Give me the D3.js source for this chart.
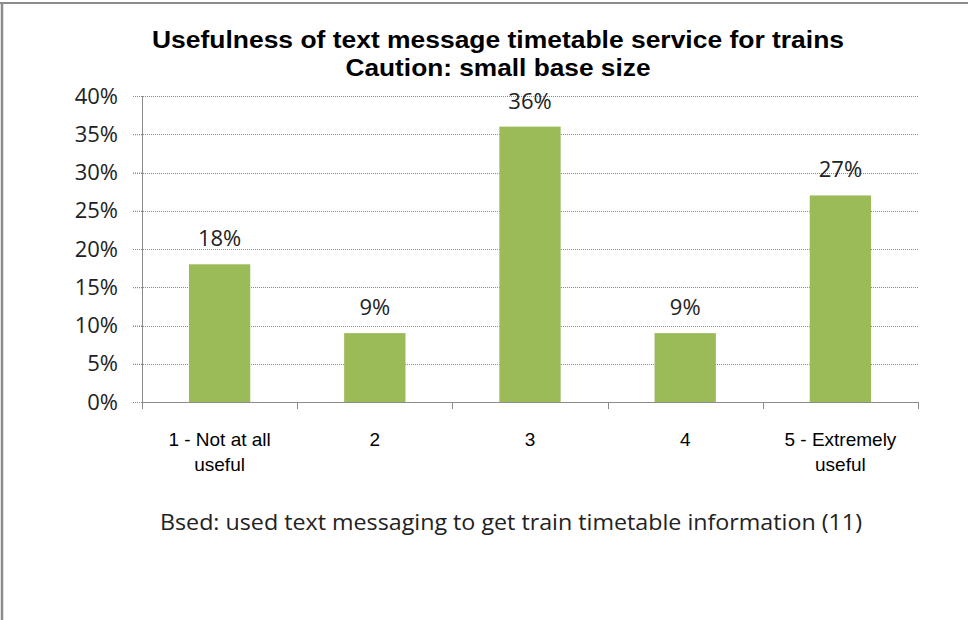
<!DOCTYPE html>
<html>
<head>
<meta charset="utf-8">
<script src="https://cdn.jsdelivr.net/npm/d3@7"></script>
<style>
  html, body { margin: 0; padding: 0; background: #fff; }
  svg { display: block; }
</style>
</head>
<body>
<svg id="chart" width="968" height="620"></svg>
<script>
// Chart data
const categories = ["1 - Not at all|useful", "2", "3", "4", "5 - Extremely|useful"];
const values = [18, 9, 36, 9, 27];
const yTicks = [0, 5, 10, 15, 20, 25, 30, 35, 40];
const titleLines = ["Usefulness of text message timetable service for trains", "Caution: small base size"];
const footnote = "Bsed: used text messaging to get train timetable information (11)";

const svg = d3.select("#chart");
const W = 968, H = 620;
const plot = { left: 142, right: 918, top: 96, bottom: 402 };
const barColor = "#9bbb59";
const bodyFont = "'Open Sans', 'Noto Sans', sans-serif";

// Frame edges (top and left)
svg.append("rect").attr("x", 0).attr("y", 0).attr("width", W).attr("height", H).attr("fill", "#fff");
svg.append("line").attr("x1", 0).attr("x2", W).attr("y1", 3).attr("y2", 3)
  .attr("stroke", "#8c8c8c").attr("stroke-width", 2);
svg.append("line").attr("x1", 2).attr("x2", 2).attr("y1", 2).attr("y2", H)
  .attr("stroke", "#8c8c8c").attr("stroke-width", 2.5);

// Scales
const x = d3.scaleBand().domain(categories).range([plot.left, plot.right]).padding(0);
const y = d3.scaleLinear().domain([0, 40]).range([plot.bottom, plot.top]);
const barW = x.bandwidth() * 0.395;

// Title
const title = svg.append("g");
titleLines.forEach((t, i) => {
  title.append("text")
    .attr("x", 498).attr("y", 48 + i * 28)
    .attr("text-anchor", "middle")
    .attr("font-family", "'Liberation Sans', Arial, sans-serif")
    .attr("font-weight", "bold")
    .attr("font-size", 23)
    .attr("fill", "#000")
    .attr("textLength", i === 0 ? 692 : 305)
    .attr("lengthAdjust", "spacingAndGlyphs")
    .text(t);
});

// Dotted gridlines
svg.append("g").selectAll("line").data(yTicks.filter(d => d > 0)).join("line")
  .attr("x1", 133).attr("x2", plot.right)
  .attr("y1", d => Math.round(y(d)) + 0.5).attr("y2", d => Math.round(y(d)) + 0.5)
  .attr("stroke", "#8a8a8a").attr("stroke-width", 1).attr("stroke-dasharray", "1,1");

// Y axis labels
const yAxis = d3.axisLeft(y).tickValues(yTicks).tickFormat(d => d + "%").tickSize(9).tickPadding(15);
const gy = svg.append("g").attr("transform", `translate(${plot.left},0)`).call(yAxis);
gy.select(".domain").attr("stroke", "#8c8c8c").attr("d", `M0.5,${plot.top}V${plot.bottom}`);
gy.selectAll(".tick line").attr("stroke", "#8a8a8a").attr("stroke-dasharray", "1,1");
gy.selectAll(".tick text")
  .attr("font-family", bodyFont).attr("font-size", 22).attr("fill", "#222");

// Bars
svg.append("g").selectAll("rect").data(values).join("rect")
  .attr("x", (d, i) => x(categories[i]) + (x.bandwidth() - barW) / 2)
  .attr("y", d => y(d))
  .attr("width", barW)
  .attr("height", d => y(0) - y(d))
  .attr("fill", barColor);

// Value labels
svg.append("g").selectAll("text").data(values).join("text")
  .attr("x", (d, i) => x(categories[i]) + x.bandwidth() / 2)
  .attr("y", d => y(d) - 18)
  .attr("text-anchor", "middle")
  .attr("font-family", bodyFont).attr("font-size", 22).attr("fill", "#222")
  .text(d => d + "%");

// X axis line with category boundary ticks
const xAxis = d3.axisBottom(x).tickSize(0).tickFormat("");
const gx = svg.append("g").attr("transform", `translate(0,${plot.bottom})`).call(xAxis);
gx.select(".domain").attr("stroke", "#8c8c8c").attr("d", `M${plot.left},0.5H${plot.right}`);
const bounds = categories.map(c => x(c)).concat([plot.right]);
gx.selectAll(".bound").data(bounds).join("line").attr("class", "bound")
  .attr("x1", d => Math.round(d) + 0.5).attr("x2", d => Math.round(d) + 0.5)
  .attr("y1", 0).attr("y2", 7).attr("stroke", "#8c8c8c");

// Category labels (two lines where needed)
const catG = svg.append("g");
categories.forEach(c => {
  const lines = c.split("|");
  lines.forEach((ln, j) => {
    catG.append("text")
      .attr("x", x(c) + x.bandwidth() / 2)
      .attr("y", 446 + j * 25)
      .attr("text-anchor", "middle")
      .attr("font-family", "'Liberation Sans Narrow', 'Liberation Sans', Arial, sans-serif")
      .attr("font-size", 19)
      .attr("fill", "#000")
      .text(ln);
  });
});

// Footnote
svg.append("text")
  .attr("x", 511).attr("y", 530)
  .attr("text-anchor", "middle")
  .attr("font-family", bodyFont).attr("font-size", 21).attr("fill", "#222")
  .attr("textLength", 702).attr("lengthAdjust", "spacingAndGlyphs")
  .text(footnote);
</script>
</body>
</html>
